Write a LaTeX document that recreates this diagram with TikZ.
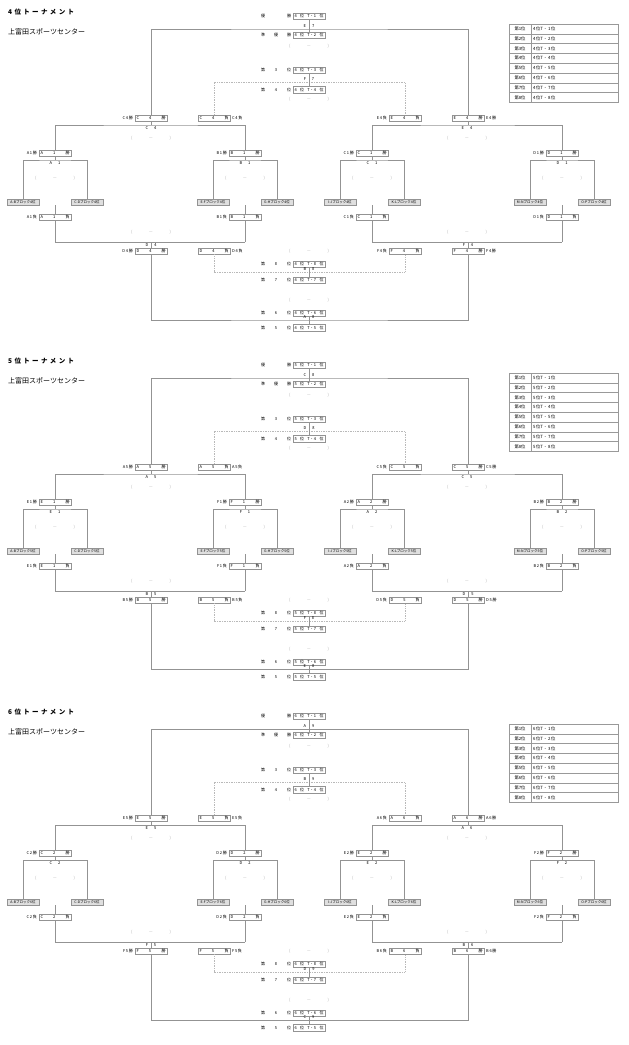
\documentclass[tikz,border=0pt]{standalone}
\usepackage{fontspec}
\setmainfont{Noto Sans CJK JP}
\usetikzlibrary{positioning}

\newcommand{\boxtext}[3]{\makebox[29pt]{#1\hfill#2\hfill#3}}
\newcommand{\sidetext}[3]{#1\,#2\,#3}
\newcommand{\gaptext}[2]{#1\hspace{6pt}#2}
\newcommand{\parenth}{\makebox[40pt]{(\hfill—\hfill)}}
\newcommand{\ranktext}[2]{\makebox[29pt]{#1\hfill{}位\hfill T・#2\hfill{}位}}

\newcommand{\tbox}[6]{%
  \node[box] (#1) at (#2,#3) {\boxtext#4{#5}};
  \node[tag,#6=1.5pt of #1] {\sidetext#4{#5}};
}
\newcommand{\placerow}[5]{%
  \node[tag] at (276,#2) {\makebox[30pt]{#3}};
  \node[box] (#1) at (309,#2) {\ranktext{#4}{#5}};
}
\newcommand{\quarter}[5]{%
  \tbox{#1w}{#2}{153}{#3}{勝}{left}
  \node[blk] (#1a) at ({#2-32},202) {#4};
  \node[blk] (#1b) at ({#2+32},202) {#5};
  \coordinate (#1m) at (#2,160);
  \draw[wire] (#1a) |- (#1m) -| (#1b);
  \draw[wire] (#1w) -- (#1m);
  \node[tag] at (#2,163.5) {\gaptext#3};
  \node[pale] at (#2,178) {\parenth};
  \coordinate (#1t) at (#2,205);
  \tbox{#1l}{#2}{217}{#3}{負}{left}
  \coordinate (#1e) at (#2,242);
  \draw[wire] (#1t) -- (#1l) -- (#1e);
}
\newcommand{\semis}[5]{%
  \tbox{#1tw}{151}{118}{#2}{勝}{left}
  \tbox{#1tl}{214}{118}{#2}{負}{right}
  \tbox{#1ul}{405}{118}{#3}{負}{left}
  \tbox{#1uw}{468}{118}{#3}{勝}{right}
  \tbox{#1vw}{151}{251}{#4}{勝}{left}
  \tbox{#1vl}{214}{251}{#4}{負}{right}
  \tbox{#1wl}{405}{251}{#5}{負}{left}
  \tbox{#1ww}{468}{251}{#5}{勝}{right}
  \coordinate (#1k) at (151,125);
  \coordinate (#1n) at (468,125);
  \draw[wire] (#1aw) |- (#1k) -| (#1bw);
  \draw[wire] (#1cw) |- (#1n) -| (#1dw);
  \draw[wire] (#1tw) -- (#1k);
  \draw[wire] (#1uw) -- (#1n);
  \node[tag] at (151,128.5) {\gaptext#2};
  \node[tag] at (467,128.5) {\gaptext#3};
  \node[pale] at (151,138) {\parenth};
  \node[pale] at (467,138) {\parenth};
  \coordinate (#1m) at (151,242);
  \coordinate (#1o) at (468,242);
  \draw[wire] (#1ae) -- (#1be);
  \draw[wire] (#1ce) -- (#1de);
  \draw[wire] (#1m) -- (#1vw);
  \draw[wire] (#1o) -- (#1ww);
  \node[tag] at (151,245.5) {\gaptext#4};
  \node[tag] at (468,245.5) {\gaptext#5};
  \node[pale] at (151,232) {\parenth};
  \node[pale] at (467,232) {\parenth};
}
\newcommand{\finals}[6]{%
  \placerow{#1r1}{16}{優\hfill{}勝}{#2}{1}
  \placerow{#1r2}{35}{準\hfill{}優\hfill{}勝}{#2}{2}
  \coordinate (#1f) at (309,29);
  \draw[wire] (#1tw) |- (#1f) -| (#1uw);
  \draw[wire] (#1r1) -- (#1r2);
  \node[tag] at (309,26.3) {\gaptext#3};
  \node[pale] at (309,46) {\parenth};
  \placerow{#1r3}{70}{第\hfill 3\hfill{}位}{#2}{3}
  \placerow{#1r4}{89.5}{第\hfill 4\hfill{}位}{#2}{4}
  \coordinate (#1g) at (309,82);
  \draw[dotwire] (#1tl) |- (#1g) -| (#1ul);
  \draw[wire] (#1r3) -- (#1r4);
  \node[tag] at (309,79.3) {\gaptext#4};
  \node[pale] at (309,99) {\parenth};
  \placerow{#1r8}{264}{第\hfill 8\hfill{}位}{#2}{8}
  \placerow{#1r7}{280}{第\hfill 7\hfill{}位}{#2}{7}
  \coordinate (#1h) at (309,272);
  \draw[dotwire] (#1vl) |- (#1h) -| (#1wl);
  \draw[wire] (#1r8) -- (#1r7);
  \node[tag] at (309,269.3) {\gaptext#5};
  \node[pale] at (309,251) {\parenth};
  \placerow{#1r6}{313}{第\hfill 6\hfill{}位}{#2}{6}
  \placerow{#1r5}{327.5}{第\hfill 5\hfill{}位}{#2}{5}
  \coordinate (#1i) at (309,320);
  \draw[wire] (#1vw) |- (#1i) -| (#1ww);
  \draw[wire] (#1r6) -- (#1r5);
  \node[tag] at (309,317.3) {\gaptext#6};
  \node[pale] at (309,300) {\parenth};
}
\newcommand{\results}[2]{%
  \foreach \i in {1,...,8}{
    \node[cella] (#1\i) at (520,{24+9.8*(\i-0.5)}) {第\i 位};
    \node[cellb,right=0pt of #1\i] {#2\,位T・\,\i\,位};
  }
}

\begin{document}
\begin{tikzpicture}[x=1pt,y=-1pt,
  wire/.style={gray!85,line width=0.7pt},
  dotwire/.style={gray!55,line width=0.7pt,densely dotted},
  tag/.style={inner sep=0.3pt,font=\fontsize{4}{4.5}\selectfont},
  pale/.style={tag,text=gray!70},
  box/.style={draw=gray!85,line width=0.45pt,minimum width=32pt,minimum height=6.5pt,inner sep=0pt,font=\fontsize{4}{4.5}\selectfont},
  blk/.style={box,fill=gray!25,minimum height=5.5pt,font=\fontsize{3.5}{4}\selectfont},
  cella/.style={draw=gray!80,line width=0.55pt,minimum width=22pt,minimum height=9.8pt,inner sep=0pt,font=\fontsize{4.3}{5}\selectfont},
  cellb/.style={cella,minimum width=0pt,text width=84pt,inner xsep=1.5pt,align=left},
  title/.style={anchor=west,inner sep=0pt,font=\fontsize{6.5}{7}\selectfont\bfseries},
  venue/.style={anchor=west,inner sep=0pt,font=\fontsize{7}{8}\selectfont}]
\useasboundingbox (0,0) rectangle (629,1045);

\begin{scope}
  \node[title] (h4) at (8,12) {\makebox[66pt]{4\hfill 位\hfill ト\hfill ー\hfill ナ\hfill メ\hfill ン\hfill ト}};
  \node[venue] (v4) at (8,32) {上富田スポーツセンター};
  \results{p4t}{4}
  \quarter{p4a}{55}{A1}{A-Bブロック4位}{C-Dブロック4位}
  \quarter{p4b}{245}{B1}{E-Fブロック4位}{G-Hブロック4位}
  \quarter{p4c}{372}{C1}{I-Jブロック4位}{K-Lブロック4位}
  \quarter{p4d}{562}{D1}{M-Nブロック4位}{O-Pブロック4位}
  \semis{p4}{C4}{E4}{D4}{F4}
  \finals{p4}{4}{E7}{F7}{B8}{A8}
\end{scope}

\begin{scope}[shift={(0,349)}]
  \node[title] (h5) at (8,12) {\makebox[66pt]{5\hfill 位\hfill ト\hfill ー\hfill ナ\hfill メ\hfill ン\hfill ト}};
  \node[venue] (v5) at (8,32) {上富田スポーツセンター};
  \results{p5t}{5}
  \quarter{p5a}{55}{E1}{A-Bブロック5位}{C-Dブロック5位}
  \quarter{p5b}{245}{F1}{E-Fブロック5位}{G-Hブロック5位}
  \quarter{p5c}{372}{A2}{I-Jブロック5位}{K-Lブロック5位}
  \quarter{p5d}{562}{B2}{M-Nブロック5位}{O-Pブロック5位}
  \semis{p5}{A5}{C5}{B5}{D5}
  \finals{p5}{5}{C8}{D8}{F8}{E8}
\end{scope}

\begin{scope}[shift={(0,700)}]
  \node[title] (h6) at (8,12) {\makebox[66pt]{6\hfill 位\hfill ト\hfill ー\hfill ナ\hfill メ\hfill ン\hfill ト}};
  \node[venue] (v6) at (8,32) {上富田スポーツセンター};
  \results{p6t}{6}
  \quarter{p6a}{55}{C2}{A-Bブロック6位}{C-Dブロック6位}
  \quarter{p6b}{245}{D2}{E-Fブロック6位}{G-Hブロック6位}
  \quarter{p6c}{372}{E2}{I-Jブロック6位}{K-Lブロック6位}
  \quarter{p6d}{562}{F2}{M-Nブロック6位}{O-Pブロック6位}
  \semis{p6}{E5}{A6}{F5}{B6}
  \finals{p6}{6}{A9}{B9}{D9}{C9}
\end{scope}
\end{tikzpicture}
\end{document}
